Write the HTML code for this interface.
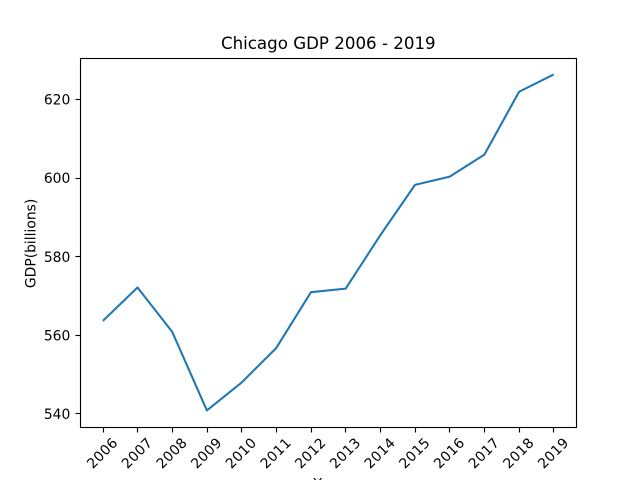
<!DOCTYPE html>
<html lang="en">
<head>
<meta charset="utf-8">
<title>Chicago GDP 2006 - 2019</title>
<style>
html,body{margin:0;padding:0;background:#fff;width:640px;height:480px;overflow:hidden}
svg{display:block}
text{font-family:"DejaVu Sans","Liberation Sans",sans-serif;fill:#000}
</style>
</head>
<body>
<svg id="chart" xmlns="http://www.w3.org/2000/svg" width="640" height="480" viewBox="0 0 640 480"></svg>
<script>
const years = [2006, 2007, 2008, 2009, 2010, 2011, 2012, 2013, 2014, 2015, 2016, 2017, 2018, 2019];
const gdpValues = [563.7, 572.2, 560.9, 540.9, 548.0, 556.8, 571.0, 571.9, 585.5, 598.3, 600.4, 606.0, 622.0, 626.4];
const yTickValues = [540, 560, 580, 600, 620];

const svg = document.getElementById('chart');
const NS = 'http://www.w3.org/2000/svg';
const plotLeft = 80, plotRight = 576, plotTop = 57.6, plotBottom = 427.2;
const xDomainMin = 2005.35, xDomainMax = 2019.65;
const yDomainMin = 536.64, yDomainMax = 630.69;

function xScale(v) {
  return plotLeft + (v - xDomainMin) / (xDomainMax - xDomainMin) * (plotRight - plotLeft);
}
function yScale(v) {
  return plotBottom - (v - yDomainMin) / (yDomainMax - yDomainMin) * (plotBottom - plotTop);
}
function make(tag, attrs, parent) {
  const el = document.createElementNS(NS, tag);
  for (const k in attrs) el.setAttribute(k, attrs[k]);
  parent.appendChild(el);
  return el;
}

const bg = make('rect', {x: 0, y: 0, width: 640, height: 480, fill: '#fff'}, svg);



const line = make('polyline', {
  points: years.map((y, i) => (xScale(y) + 0.3).toFixed(2) + ',' + yScale(gdpValues[i]).toFixed(2)).join(' '),
  fill: 'none', stroke: '#1f77b4', 'stroke-width': 2.08,
  'stroke-linejoin': 'round', 'stroke-linecap': 'butt'
}, svg);



const frame = make('rect', {
  x: 80.5, y: 58.5, width: 496, height: 369,
  fill: 'none', stroke: '#000', 'stroke-width': 1.1
}, svg);



years.forEach((yr) => {
  const x = xScale(yr);
  const tx = Math.round(x) + 0.5;
  const tick = make('line', {x1: tx, x2: tx, y1: 427.5, y2: 432.5, stroke: '#000', 'stroke-width': 1.1}, svg);
  
  
  const cy = 452.9;
  const lx = x - 0.4;
  const label = make('text', {
    x: lx, y: cy + 5, 'font-size': 13.89, 'text-anchor': 'middle', 'letter-spacing': 0.35,
    transform: 'rotate(-45 ' + lx + ' ' + cy + ')'
  }, svg);
  label.textContent = String(yr);
  
  
});

yTickValues.forEach((v) => {
  const y = yScale(v);
  const ty = Math.floor(y) + 0.5;
  const tick = make('line', {x1: 75.5, x2: 80.5, y1: ty, y2: ty, stroke: '#000', 'stroke-width': 1.1}, svg);
  
  
  const label = make('text', {x: plotLeft - 9.7, y: y + 5, 'font-size': 13.89, 'text-anchor': 'end'}, svg);
  label.textContent = String(v);
  
  
});

const title = make('text', {x: 328.3, y: 49, 'font-size': 16.67, 'text-anchor': 'middle'}, svg);
title.textContent = 'Chicago GDP 2006 - 2019';



const yTitle = make('text', {
  x: 0, y: 0, 'font-size': 13.89, 'text-anchor': 'middle',
  transform: 'translate(35.5 243.4) rotate(-90)'
}, svg);
yTitle.textContent = 'GDP(billions)';



const xTitle = make('text', {x: 328, y: 488.5, 'font-size': 13.89, 'text-anchor': 'middle'}, svg);
xTitle.textContent = 'Year';


</script>
</body>
</html>
